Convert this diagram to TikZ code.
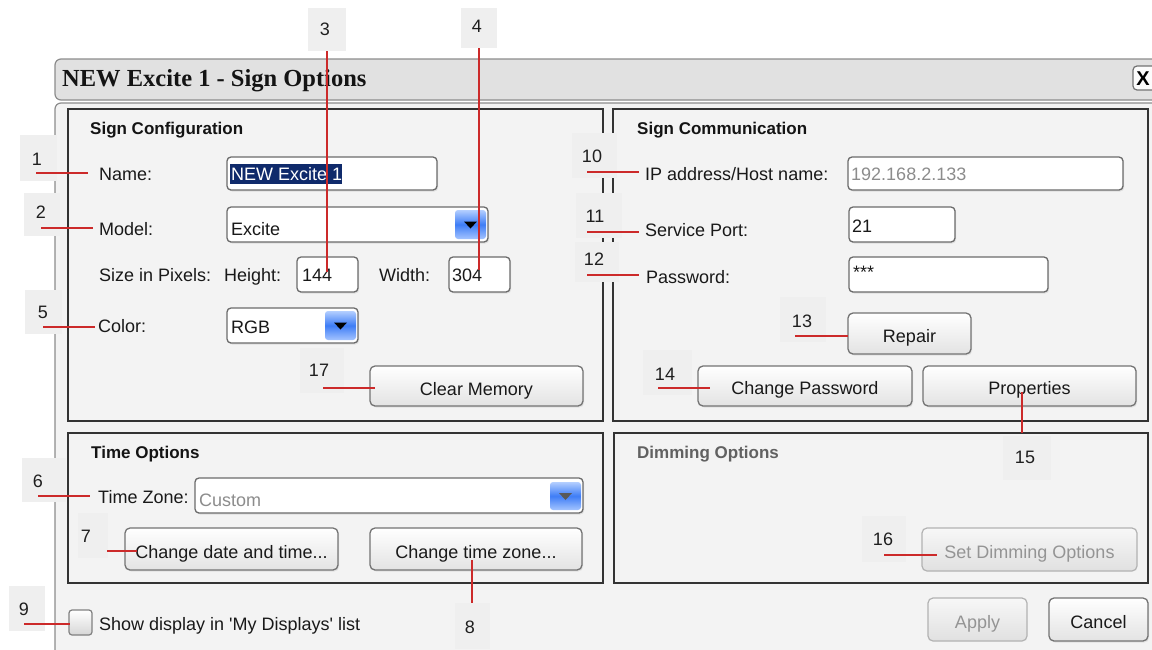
\documentclass[tikz,border=0pt]{standalone}
\usepackage{fontspec}
\setmainfont{Liberation Sans}
\newfontfamily\plainsans{Liberation Sans}
\newfontfamily\titlefont{Liberation Serif}
\usetikzlibrary{fit,shadows,calc}
\definecolor{panel}{HTML}{F3F3F3}
\definecolor{titlebar}{HTML}{E1E1E1}
\definecolor{callred}{HTML}{CC2A2A}
\definecolor{selblue}{HTML}{0F2A6B}
\definecolor{cbtop}{HTML}{B4CFFF}
\definecolor{cbmid}{HTML}{3E7DF6}
\definecolor{cbbot}{HTML}{A4C4FF}
\definecolor{callbg}{HTML}{EFEFEF}
\newcommand{\mkbtn}[8]{%
  \node[#1, fit={(#3,#4) (#5,#6)}] (#2) {};
  \node[#1txt] at (#2.center |- 0,#7) {#8};}
\newcommand{\mkcall}[8]{%
  \node[callbox, fit={(#2,#3) (#4,#5)}] (#1box) {};
  \node[callnum] (#1) at (#6,#7) {#8};}
\newcommand{\mkline}[5]{%
  \coordinate (#1a) at (#2,#3);
  \coordinate (#1b) at (#4,#5);
  \draw[callline] (#1a) -- (#1b);}
\newcommand{\cbarrow}[6]{% name x1 y1 x2 y2 triangle color
  \shade[top color=cbtop, bottom color=cbbot, middle color=cbmid, rounded corners=3] (#2,#3) rectangle (#4,#5);
  \coordinate (#1) at ($(#2,#3)!0.5!(#4,#5)$);
  \fill[#6] ($(#1)+(-6.5,-3)$) -- ($(#1)+(6.5,-3)$) -- ($(#1)+(0,4)$) -- cycle;}
\begin{document}
\begin{tikzpicture}[x=1pt,y=-1pt,
  font=\fontsize{18}{21}\selectfont,
  lbl/.style={anchor=base west, inner sep=0, text=black!90},
  dis/.style={anchor=base west, inner sep=0, text=black!45},
  grp/.style={anchor=base west, inner sep=0, text=black!92, font=\bfseries\fontsize{17}{20}\selectfont},
  gframe/.style={draw=black!80, line width=1.4},
  tbox/.style={draw=black!58, line width=1.3, fill=white, rounded corners=4, inner sep=0,
     drop shadow={opacity=0.18, shadow xshift=1.2pt, shadow yshift=-1.5pt}},
  btn/.style={draw=black!55, line width=1.3, rounded corners=5, inner sep=0,
     top color=white, bottom color=black!11,
     drop shadow={opacity=0.15, shadow xshift=1.2pt, shadow yshift=-1.5pt}},
  btntxt/.style={anchor=base, inner sep=0, text=black!90},
  dbtn/.style={draw=black!30, line width=1.2, rounded corners=5, inner sep=0,
     top color=black!3, bottom color=black!12},
  dbtntxt/.style={anchor=base, inner sep=0, text=black!42},
  callbox/.style={fill=callbg, inner sep=0},
  callnum/.style={anchor=base, inner sep=0, text=black!88},
  callline/.style={draw=callred, line width=1.7}
]
\useasboundingbox (0,0) rectangle (1152,649);
\fill[white] (0,0) rectangle (1152,649);

% window title bar
\node[draw=black!45, line width=1.2, fill=titlebar, rounded corners=6, inner sep=0,
      fit={(55,59) (1175,100)}] (titlebar) {};
\node[anchor=base west, inner sep=0, font=\titlefont\bfseries\fontsize{24.5}{28}\selectfont, text=black!92]
      (title) at (62,86) {NEW Excite 1 - Sign Options};
\node[draw=black!55, line width=1.2, fill=white!90!titlebar, rounded corners=4, inner sep=0,
      fit={(1133,66) (1165,90)}] (closebtn) {};
\node[anchor=base, inner sep=0, font=\bfseries\fontsize{20}{22}\selectfont] at (1143,85) {X};

% window body
\node[draw=black!45, line width=1.2, fill=panel, rounded corners=6, inner sep=0,
      fit={(55,103) (1175,670)}] (body) {};

% group frames
\node[gframe, inner sep=0, fit={(68,109) (603,421)}] (gconf) {};
\node[gframe, inner sep=0, fit={(613,109) (1148,421)}] (gcomm) {};
\node[gframe, inner sep=0, fit={(68,433) (603,583)}] (gtime) {};
\node[gframe, inner sep=0, fit={(614,433) (1148,583)}] (gdim) {};
\node[grp] (tconf) at (90,134) {Sign Configuration};
\node[grp] (tcomm) at (637,134) {Sign Communication};
\node[grp] (ttime) at (91,458) {Time Options};
\node[grp, text=black!62] (tdim) at (637,458) {Dimming Options};

% --- Sign Configuration
\node[lbl] (lname) at (99,180) {Name:};
\node[tbox, fit={(227,157) (437,190)}] (namebox) {};
\fill[selblue] (230,164) rectangle (342,184);
\node[lbl, text=white] (nameval) at (231,180) {NEW Excite 1};

\node[lbl] (lmodel) at (99,235) {Model:};
\node[tbox, fit={(227,207) (488,242)}] (modelbox) {};
\node[lbl] (modelval) at (231,235) {Excite};
\cbarrow{modelarrow}{455}{210}{486}{239}{black}

\node[lbl] (lsize) at (99,281) {Size in Pixels:};
\node[lbl] (lheight) at (224,281) {Height:};
\node[tbox, fit={(297,257) (358,292)}] (heightbox) {};
\node[lbl] (heightval) at (302,281) {144};
\node[lbl] (lwidth) at (379,281) {Width:};
\node[tbox, fit={(449,257) (510,292)}] (widthbox) {};
\node[lbl] (widthval) at (452,281) {304};

\node[lbl] (lcolor) at (98,332) {Color:};
\node[tbox, fit={(227,308) (358,343)}] (colorbox) {};
\node[lbl] (colorval) at (231,333) {RGB};
\cbarrow{colorarrow}{325}{311}{356}{340}{black}

\mkbtn{btn}{clear}{370}{366}{583}{406}{395}{Clear Memory}

% --- Sign Communication
\node[lbl] (lip) at (645,180) {IP address/Host name:};
\node[tbox, fit={(848,157) (1123,190)}] (ipbox) {};
\node[dis] (ipval) at (851,180) {192.168.2.133};

\node[lbl] (lport) at (645,236) {Service Port:};
\node[tbox, fit={(849,207) (955,242)}] (portbox) {};
\node[lbl] (portval) at (852,232) {21};

\node[lbl] (lpw) at (646,283) {Password:};
\node[tbox, fit={(849,257) (1048,292)}] (pwbox) {};
\node[lbl] (pwval) at (853,278) {***};

\mkbtn{btn}{repair}{848}{313}{971}{354}{342}{Repair}
\mkbtn{btn}{chpw}{698}{366}{912}{406}{394}{Change Password}
\mkbtn{btn}{props}{923}{366}{1136}{406}{394}{Properties}

% --- Time Options
\node[lbl] (ltz) at (98,503) {Time Zone:};
\node[tbox, fit={(195,478) (583,513)}] (tzbox) {};
\node[dis] (tzval) at (199,506) {Custom};
\cbarrow{tzarrow}{550}{482}{581}{510}{black!65}
\mkbtn{btn}{chdate}{125}{528}{338}{570}{558}{Change date and time...}
\mkbtn{btn}{chtz}{370}{528}{582}{570}{558}{Change time zone...}

% --- Dimming
\mkbtn{dbtn}{setdim}{922}{528}{1137}{571}{558}{Set Dimming Options}

% --- bottom row
\node[draw=black!50, line width=1.2, rounded corners=3, top color=white, bottom color=black!16,
      inner sep=0, fit={(69,610) (92,635)}] (check) {};
\node[lbl, font=\plainsans\fontsize{18}{21}\selectfont] (lcheck) at (99,630) {Show display in 'My Displays' list};
\mkbtn{dbtn}{apply}{928}{598}{1027}{641}{628}{Apply}
\mkbtn{btn}{cancel}{1049}{598}{1148}{641}{628}{Cancel}

% --- callouts
\mkcall{c1}{20}{135}{57}{181}{37}{165}{1}
\mkcall{c2}{24}{193}{60}{236}{41}{218}{2}
\mkcall{c5}{25}{290}{62}{334}{43}{318}{5}
\mkcall{c3}{308}{8}{346}{51}{325}{35}{3}
\mkcall{c4}{461}{8}{497}{48}{477}{32}{4}
\mkcall{c17}{300}{348}{344}{393}{319}{376}{17}
\mkcall{c10}{572}{133}{617}{178}{592}{162}{10}
\mkcall{c11}{576}{193}{622}{238}{595}{222}{11}
\mkcall{c12}{575}{242}{619}{282}{594}{265}{12}
\mkcall{c13}{780}{297}{826}{342}{802}{327}{13}
\mkcall{c14}{643}{350}{692}{395}{665}{380}{14}
\mkcall{c15}{1003}{436}{1051}{480}{1025}{463}{15}
\mkcall{c16}{862}{516}{906}{562}{883}{545}{16}
\mkcall{c6}{22}{458}{66}{502}{38}{487}{6}
\mkcall{c7}{78}{513}{108}{558}{86}{542}{7}
\mkcall{c9}{9}{586}{45}{631}{24}{615}{9}
\mkcall{c8}{455}{603}{490}{649}{470}{633}{8}

\mkline{r1}{36}{173}{88}{173}
\mkline{r2}{41}{228}{93}{228}
\mkline{r5}{43}{327}{95}{327}
\mkline{r3}{327}{51}{327}{272}
\mkline{r4}{479}{48}{479}{270}
\mkline{r17}{323}{388}{375}{388}
\mkline{r10}{587}{172}{639}{172}
\mkline{r11}{587}{232}{639}{232}
\mkline{r12}{587}{275}{639}{275}
\mkline{r13}{795}{336}{848}{336}
\mkline{r14}{658}{388}{710}{388}
\mkline{r15}{1022}{392}{1022}{433}
\mkline{r16}{884}{555}{937}{555}
\mkline{r6}{38}{496}{90}{496}
\mkline{r7}{107}{551}{137}{551}
\mkline{r9}{24}{624}{70}{624}
\mkline{r8}{472}{560}{472}{603}
\end{tikzpicture}
\end{document}
